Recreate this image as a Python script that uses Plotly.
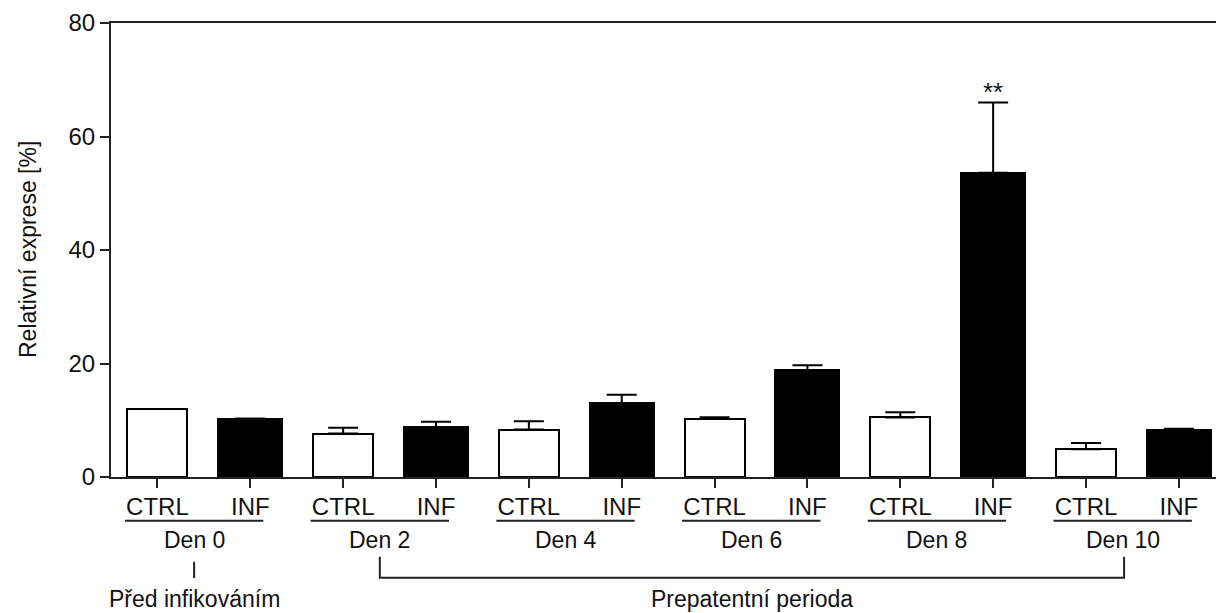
import plotly.graph_objects as go

# ---- data ----
days = ["Den 0", "Den 2", "Den 4", "Den 6", "Den 8", "Den 10"]
groups = ["CTRL", "INF"]
ctrl_mean = [12.0, 7.65, 8.36, 10.2, 10.5, 4.9]
ctrl_sem = [None, 1.05, 1.45, 0.35, 0.9, 1.1]
inf_mean = [10.3, 8.8, 13.05, 18.8, 53.6, 8.35]
inf_sem = [None, 0.95, 1.45, 0.9, 12.4, 0.15]
significance = {"Den 8": "**"}
period_labels = ["Před infikováním", "Prepatentní perioda"]
y_ticks = [0, 20, 40, 60, 80]
y_title = "Relativní exprese [%]"

FONT = "Liberation Sans, Arial, sans-serif"
FS_TICK = 24
FS = 23
AX = "#222222"
TXT = "#111111"

n = len(days)
ctrl_x = [2 * i for i in range(n)]
inf_x = [2 * i + 1 for i in range(n)]

fig = go.Figure()
fig.add_trace(go.Bar(
    x=ctrl_x, y=ctrl_mean, width=0.645, name="CTRL",
    marker=dict(color="white", line=dict(color="black", width=2)),
    error_y=dict(type="data", array=ctrl_sem, arrayminus=[0] * n, symmetric=False,
                 color="black", thickness=2, width=15),
    showlegend=False, hoverinfo="skip",
))
fig.add_trace(go.Bar(
    x=inf_x, y=inf_mean, width=0.69, name="INF",
    marker=dict(color="black", line=dict(color="black", width=2)),
    error_y=dict(type="data", array=inf_sem, arrayminus=[0] * n, symmetric=False,
                 color="black", thickness=2, width=15),
    showlegend=False, hoverinfo="skip",
))

# plot-area geometry helpers (pixels -> paper)
T, B0 = 23, 477  # y px of top (80) and zero
def py(ypx):
    return (B0 - ypx) / (B0 - T)

shapes = []
annotations = []
for i, d in enumerate(days):
    c = 2 * i
    center = c + 0.395
    shapes.append(dict(type="line", xref="x", yref="paper",
                       x0=c - 0.35, x1=c + 1.14, y0=py(520.7), y1=py(520.7),
                       line=dict(color=AX, width=2)))
    annotations.append(dict(text=d, xref="x", yref="paper", x=center, y=py(539.5),
                            xanchor="center", yanchor="middle", showarrow=False,
                            font=dict(family=FONT, size=FS, color=TXT)))
    if d in significance:
        annotations.append(dict(text=significance[d], xref="x", yref="y",
                                x=c + 1, y=inf_mean[i] + inf_sem[i], yshift=-7,
                                xanchor="center", yanchor="bottom", showarrow=False,
                                font=dict(family=FONT, size=26, color=TXT)))

# Den 0 marker
c0 = 0.395
shapes.append(dict(type="line", xref="x", yref="paper", x0=c0, x1=c0,
                   y0=py(561.7), y1=py(578), line=dict(color=AX, width=2)))
annotations.append(dict(text=period_labels[0], xref="x", yref="paper", x=c0, y=py(599),
                        xanchor="center", yanchor="middle", showarrow=False,
                        font=dict(family=FONT, size=FS, color=TXT)))
# bracket Den 2 .. Den 10
bl, br = 2 + 0.395, 10 + 0.41
shapes.append(dict(type="path", xref="x", yref="paper",
                   path=f"M {bl} {py(556.7)} L {bl} {py(577.7)} L {br} {py(577.7)} L {br} {py(556.7)}",
                   line=dict(color=AX, width=2)))
annotations.append(dict(text=period_labels[1], xref="x", yref="paper", x=(bl + br) / 2, y=py(599),
                        xanchor="center", yanchor="middle", showarrow=False,
                        font=dict(family=FONT, size=FS, color=TXT)))
# y title
annotations.append(dict(text=y_title, xref="paper", yref="paper", x=(28 - 111) / 1105, y=0.5,
                        xanchor="center", yanchor="middle", textangle=-90, showarrow=False,
                        font=dict(family=FONT, size=FS, color=TXT)))

fig.update_layout(
    width=1216, height=613,
    margin=dict(l=111, r=0, t=T, b=613 - B0),
    paper_bgcolor="white", plot_bgcolor="white",
    bargap=0, barmode="overlay",
    shapes=shapes, annotations=annotations,
    font=dict(family=FONT, size=FS, color=TXT),
)
fig.update_xaxes(
    range=[-0.5, 11.4], tickvals=ctrl_x + inf_x,
    ticktext=[groups[0]] * n + [groups[1]] * n,
    ticks="outside", ticklen=9, tickwidth=2, tickcolor=AX,
    showline=True, linecolor=AX, linewidth=2, mirror=True,
    showgrid=False, zeroline=False, ticklabelstandoff=-2,
    tickfont=dict(family=FONT, size=FS_TICK, color=TXT),
)
fig.update_yaxes(
    range=[0, 80], tickvals=y_ticks,
    ticks="outside", ticklen=9, tickwidth=2, tickcolor=AX,
    showline=True, linecolor=AX, linewidth=2, mirror=False,
    showgrid=False, zeroline=False,
    tickfont=dict(family=FONT, size=FS_TICK, color=TXT),
)

fig.write_html("out.html", config={"displayModeBar": False},
               post_script="document.body.style.margin='0';document.body.style.overflow='hidden';")
